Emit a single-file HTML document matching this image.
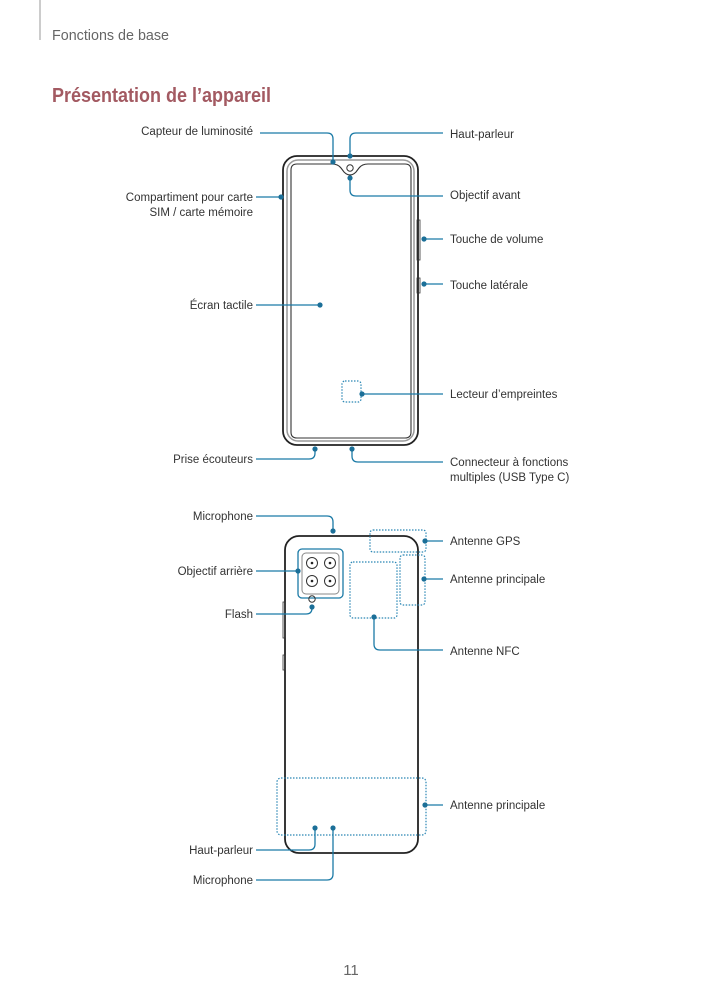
<!DOCTYPE html>
<html><head><meta charset="utf-8"><style>
html,body{margin:0;padding:0;background:#fff;}
svg{display:block;font-family:"Liberation Sans",sans-serif;}
.t{font-size:11.5px;fill:#333;}
.l{fill:none;stroke:#1b7aa6;stroke-width:1.3;}
.d{fill:#1b6f98;}
.dot{fill:none;stroke:#2a86b4;stroke-width:1.2;stroke-dasharray:1.5 1.5;}
</style></head><body>
<svg width="703" height="994" viewBox="0 0 703 994">
<line x1="40" y1="0" x2="40" y2="40" stroke="#999" stroke-width="1"/>
<text x="52" y="40" font-size="15" fill="#666" textLength="117" lengthAdjust="spacingAndGlyphs">Fonctions de base</text>
<text x="52" y="102" font-size="20" font-weight="bold" fill="#a35a62" textLength="219" lengthAdjust="spacingAndGlyphs">Présentation de l’appareil</text>

<!-- front phone -->
<rect x="283" y="156" width="135" height="289" rx="14" fill="none" stroke="#222" stroke-width="1.8"/>
<rect x="287" y="160" width="127" height="281" rx="11" fill="none" stroke="#999" stroke-width="1.5"/>
<path d="M291 170 q0-6 6-6 h35 q6 0 9 4 l3 4 q6 6 12 0 l3-4 q3-4 9-4 h37 q6 0 6 6 v262 q0 6-6 6 h-108 q-6 0-6-6z" fill="none" stroke="#333" stroke-width="1.1"/>
<circle cx="350" cy="168" r="3.2" fill="none" stroke="#333" stroke-width="1"/>
<rect x="417" y="220" width="3" height="40" fill="none" stroke="#333" stroke-width="0.8"/>
<rect x="417" y="278" width="3" height="15" fill="none" stroke="#333" stroke-width="0.8"/>
<rect x="342" y="381" width="19" height="21" rx="3" class="dot"/>

<path class="l" d="M260 133 H327 q6 0 6 6 V162"/><circle class="d" cx="333" cy="162" r="2.6"/>
<path class="l" d="M443 133 H356 q-6 0-6 6 V156"/><circle class="d" cx="350" cy="156" r="2.6"/>
<path class="l" d="M443 196 H356 q-6 0-6-6 V178"/><circle class="d" cx="350" cy="178" r="2.6"/>
<path class="l" d="M256 197 H281"/><circle class="d" cx="281" cy="197" r="2.6"/>
<path class="l" d="M424 239 H443"/><circle class="d" cx="424" cy="239" r="2.6"/>
<path class="l" d="M424 284 H443"/><circle class="d" cx="424" cy="284" r="2.6"/>
<path class="l" d="M256 305 H320"/><circle class="d" cx="320" cy="305" r="2.6"/>
<path class="l" d="M362 394 H443"/><circle class="d" cx="362" cy="394" r="2.6"/>
<path class="l" d="M256 459 H309 q6 0 6-6 V449"/><circle class="d" cx="315" cy="449" r="2.6"/>
<path class="l" d="M443 462 H358 q-6 0-6-6 V449"/><circle class="d" cx="352" cy="449" r="2.6"/>

<text class="t" x="253" y="135" text-anchor="end">Capteur de luminosité</text>
<text class="t" x="450" y="138">Haut-parleur</text>
<text class="t" x="450" y="199">Objectif avant</text>
<text class="t" x="253" y="201" text-anchor="end">Compartiment pour carte</text>
<text class="t" x="253" y="216" text-anchor="end">SIM / carte mémoire</text>
<text class="t" x="450" y="243">Touche de volume</text>
<text class="t" x="450" y="289">Touche latérale</text>
<text class="t" x="253" y="309" text-anchor="end">Écran tactile</text>
<text class="t" x="450" y="398">Lecteur d’empreintes</text>
<text class="t" x="253" y="463" text-anchor="end">Prise écouteurs</text>
<text class="t" x="450" y="466">Connecteur à fonctions</text>
<text class="t" x="450" y="481">multiples (USB Type C)</text>

<!-- back phone -->
<rect x="285" y="536" width="133" height="317" rx="14" fill="none" stroke="#222" stroke-width="1.8"/>
<rect x="283" y="602" width="2" height="36" fill="none" stroke="#333" stroke-width="0.8"/>
<rect x="283" y="655" width="2" height="15" fill="none" stroke="#333" stroke-width="0.8"/>
<rect x="298" y="549" width="45" height="49" rx="4" fill="none" stroke="#1b7aa6" stroke-width="1.3"/>
<rect x="302" y="553" width="37" height="41" rx="4" fill="none" stroke="#888" stroke-width="1"/>
<g fill="none" stroke="#333" stroke-width="1">
<circle cx="312" cy="563" r="5.5"/><circle cx="330" cy="563" r="5.5"/><circle cx="312" cy="581" r="5.5"/><circle cx="330" cy="581" r="5.5"/>
<circle cx="312" cy="599" r="3.2"/></g>
<g fill="#222"><circle cx="312" cy="563" r="1.3"/><circle cx="330" cy="563" r="1.3"/><circle cx="312" cy="581" r="1.3"/><circle cx="330" cy="581" r="1.3"/></g>
<rect x="370" y="530" width="56" height="22" rx="3" class="dot"/>
<rect x="400" y="555" width="25" height="50" rx="3" class="dot"/>
<rect x="350" y="562" width="47" height="56" rx="3" class="dot"/>
<rect x="277" y="778" width="149" height="57" rx="4" class="dot"/>

<path class="l" d="M256 516 H327 q6 0 6 6 V531"/><circle class="d" cx="333" cy="531" r="2.6"/>
<path class="l" d="M425 541 H443"/><circle class="d" cx="425" cy="541" r="2.6"/>
<path class="l" d="M256 571 H298"/><circle class="d" cx="298" cy="571" r="2.6"/>
<path class="l" d="M424 579 H443"/><circle class="d" cx="424" cy="579" r="2.6"/>
<path class="l" d="M256 614 H306 q6 0 6-6 V607"/><circle class="d" cx="312" cy="607" r="2.6"/>
<path class="l" d="M443 650 H380 q-6 0-6-6 V617"/><circle class="d" cx="374" cy="617" r="2.6"/>
<path class="l" d="M425 805 H443"/><circle class="d" cx="425" cy="805" r="2.6"/>
<path class="l" d="M256 850 H309 q6 0 6-6 V828"/><circle class="d" cx="315" cy="828" r="2.6"/>
<path class="l" d="M256 880 H327 q6 0 6-6 V828"/><circle class="d" cx="333" cy="828" r="2.6"/>

<text class="t" x="253" y="520" text-anchor="end">Microphone</text>
<text class="t" x="450" y="545">Antenne GPS</text>
<text class="t" x="253" y="575" text-anchor="end">Objectif arrière</text>
<text class="t" x="450" y="583">Antenne principale</text>
<text class="t" x="253" y="618" text-anchor="end">Flash</text>
<text class="t" x="450" y="655">Antenne NFC</text>
<text class="t" x="450" y="809">Antenne principale</text>
<text class="t" x="253" y="854" text-anchor="end">Haut-parleur</text>
<text class="t" x="253" y="884" text-anchor="end">Microphone</text>

<text x="351" y="975" font-size="15" fill="#666" text-anchor="middle">11</text>
</svg>
</body></html>
